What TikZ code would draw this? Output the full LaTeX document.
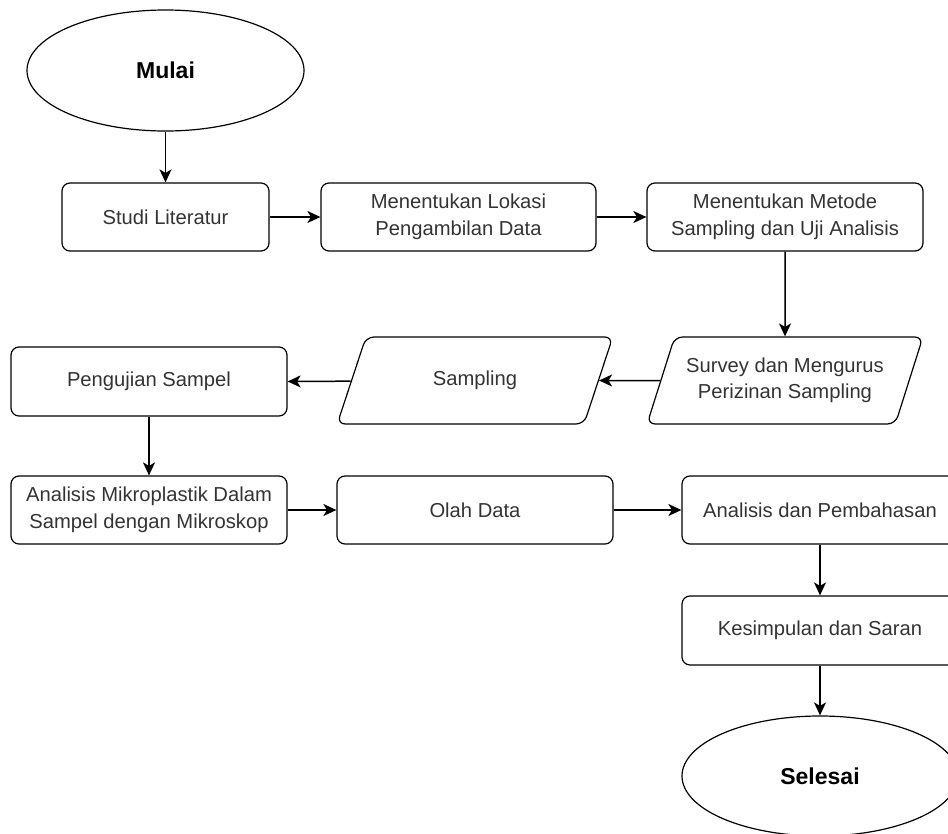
\documentclass[tikz,border=0pt]{standalone}
\usepackage{fontspec}
\setmainfont{Liberation Sans}
\usetikzlibrary{arrows.meta,shapes.geometric}

\tikzset{
  proc/.style={draw, line width=1.2pt, rounded corners=8pt, text=black!80,
    align=center, inner sep=2pt, minimum height=68pt,
    font=\fontsize{20.2}{26.5}\selectfont},
  term/.style={draw, ellipse, line width=1.2pt, inner sep=0pt,
    minimum width=277pt, minimum height=121pt,
    font=\fontsize{23}{28}\selectfont\bfseries},
  io/.style={draw, trapezium, trapezium left angle=63,
    trapezium right angle=117, trapezium stretches=true,
    rounded corners=8pt, line width=1.2pt, minimum width=276pt,
    minimum height=87pt, inner sep=2pt, align=center, text=black!80,
    font=\fontsize{20.2}{26.5}\selectfont},
  link/.style={-{Stealth[length=13pt,width=12pt,inset=3.5pt]},
    line width=1.5pt}
}

\begin{document}
\begin{tikzpicture}[x=1pt,y=-1pt]

	\useasboundingbox (0,0) rectangle (948,833); \clip (0,0)
        rectangle (948,833);

	\node[term] (mulai) at (165.5,70.5) {Mulai}; \node[proc,
        minimum width=207pt] (studi) at (165.5,217) {Studi Literatur};
        \node[proc, minimum width=275pt] (lokasi) at (458.5,217)
        {Menentukan Lokasi\\Pengambilan Data}; \node[proc, minimum
        width=276pt] (metode) at (785,217) {Menentukan Metode\\Sampling
        dan Uji Analisis};

	\node[io] (survey) at (785,380.5) {Survey dan Mengurus\\Perizinan
        Sampling}; \node[io] (sampling) at (475,380.5) {Sampling};
        \node[proc, minimum width=276pt, minimum height=69pt] (uji) at
        (149,381.5) {Pengujian Sampel};

	\node[proc, minimum width=276pt] (mikro) at (149,510) {Analisis
        Mikroplastik Dalam\\Sampel dengan Mikroskop}; \node[proc,
        minimum width=276pt] (olah) at (475,510) {Olah Data};
        \node[proc, minimum width=276pt] (bahas) at (820,510) {Analisis
        dan Pembahasan}; \node[proc, minimum width=276pt, minimum
        height=69pt] (simpul) at (820,630.5) {Kesimpulan dan Saran};
        \node[term, minimum width=276pt, minimum height=120pt]
        (selesai) at (820,776) {Selesai};

	\draw[link] (mulai.south) -- (studi.north); \draw[link]
        (studi.east) -- (lokasi.west); \draw[link] (lokasi.east) --
        (metode.west); \draw[link] (metode.south) -- (survey.north);
        \draw[link] (survey) -- (sampling); \draw[link] (sampling) --
        (uji.east); \draw[link] (uji.south) -- (mikro.north);
        \draw[link] (mikro.east) -- (olah.west); \draw[link]
        (olah.east) -- (bahas.west); \draw[link] (bahas.south) --
        (simpul.north); \draw[link] (simpul.south) -- (selesai.north);
      \end{tikzpicture}
\end{document}
